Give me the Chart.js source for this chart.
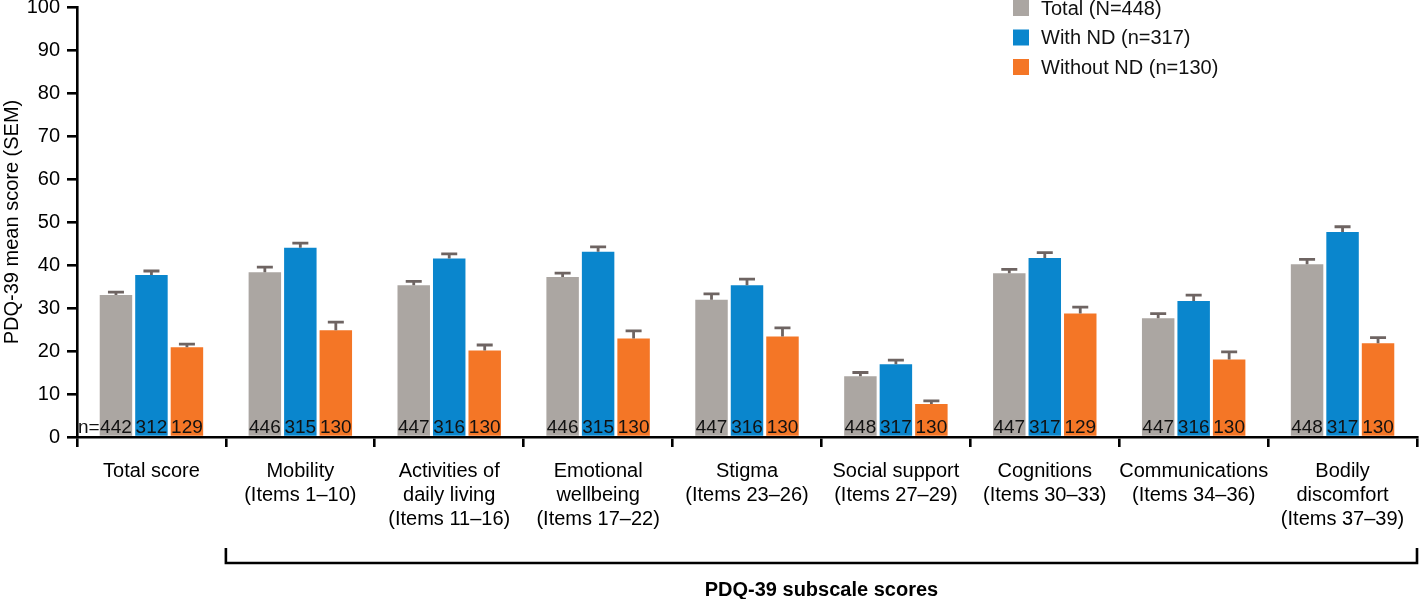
<!DOCTYPE html>
<html>
<head>
<meta charset="utf-8">
<script src="https://cdn.jsdelivr.net/npm/chart.js@4/dist/chart.umd.min.js"></script>
<style>
  html, body { margin: 0; padding: 0; background: #fff; }
  canvas { display: block; }
</style>
</head>
<body>
<canvas id="c" width="1419" height="599"></canvas>
<script>
const categories = [
  "Total score",
  ["Mobility", "(Items 1–10)"],
  ["Activities of", "daily living", "(Items 11–16)"],
  ["Emotional", "wellbeing", "(Items 17–22)"],
  ["Stigma", "(Items 23–26)"],
  ["Social support", "(Items 27–29)"],
  ["Cognitions", "(Items 30–33)"],
  ["Communications", "(Items 34–36)"],
  ["Bodily", "discomfort", "(Items 37–39)"]
];
const seriesLabels = ["Total (N=448)", "With ND (n=317)", "Without ND (n=130)"];
const totalMean = [33.0, 38.3, 35.3, 37.2, 31.9, 14.1, 38.1, 27.6, 40.2];
const totalSem = [0.7, 1.2, 0.9, 0.9, 1.4, 0.9, 0.9, 1.1, 1.1];
const withNdMean = [37.7, 44.0, 41.5, 43.1, 35.3, 16.9, 41.6, 31.6, 47.7];
const withNdSem = [0.9, 1.1, 1.1, 1.1, 1.4, 1.0, 1.3, 1.4, 1.2];
const withoutNdMean = [20.9, 24.8, 20.1, 22.9, 23.4, 7.7, 28.7, 18.0, 21.8];
const withoutNdSem = [0.7, 1.9, 1.3, 1.8, 2.0, 0.7, 1.5, 1.8, 1.3];
const totalN = [442, 446, 447, 446, 447, 448, 447, 447, 448];
const withNdN = [312, 315, 316, 315, 316, 317, 317, 316, 317];
const withoutNdN = [129, 130, 130, 130, 130, 130, 129, 130, 130];
const yTitle = "PDQ-39 mean score (SEM)";
const groupTitle = "PDQ-39 subscale scores";

const FONT = "'Liberation Sans', Arial, Helvetica, sans-serif";
const colors = ["#aba6a2", "#0a86cd", "#f47626"];
const sems = [totalSem, withNdSem, withoutNdSem];
const ns = [totalN, withNdN, withoutNdN];

const errorBars = {
  id: "errorBars",
  afterDatasetsDraw(chart) {
    const ctx = chart.ctx, y = chart.scales.y;
    ctx.save();
    ctx.strokeStyle = "#6e6462";
    ctx.lineWidth = 2.8;
    chart.data.datasets.forEach((ds, di) => {
      const meta = chart.getDatasetMeta(di);
      meta.data.forEach((bar, i) => {
        const top = y.getPixelForValue(ds.data[i] + sems[di][i]);
        ctx.beginPath();
        ctx.moveTo(bar.x, bar.y);
        ctx.lineTo(bar.x, top);
        ctx.moveTo(bar.x - 8, top);
        ctx.lineTo(bar.x + 8, top);
        ctx.stroke();
      });
    });
    ctx.restore();
  }
};

const nLabels = {
  id: "nLabels",
  afterDatasetsDraw(chart) {
    const ctx = chart.ctx, y = chart.scales.y;
    const base = y.getPixelForValue(0) - 4;
    ctx.save();
    ctx.font = "19px " + FONT;
    ctx.fillStyle = "#111";
    ctx.textBaseline = "alphabetic";
    ctx.textAlign = "center";
    chart.data.datasets.forEach((ds, di) => {
      const meta = chart.getDatasetMeta(di);
      meta.data.forEach((bar, i) => {
        ctx.fillText(String(ns[di][i]), bar.x, base);
      });
    });
    ctx.textAlign = "left";
    ctx.fillText("n=", chart.chartArea.left + 1, base);
    ctx.restore();
  }
};

const legendAndBracket = {
  id: "legendAndBracket",
  afterDraw(chart) {
    const ctx = chart.ctx, x = chart.scales.x;
    ctx.save();
    ctx.font = "20px " + FONT;
    ctx.textBaseline = "middle";
    ctx.textAlign = "left";
    chart.data.datasets.forEach((ds, di) => {
      const cy = 8 + di * 29.5;
      ctx.fillStyle = ds.backgroundColor;
      ctx.fillRect(1013, cy - 8, 16, 16);
      ctx.fillStyle = "#111";
      ctx.fillText(ds.label, 1041, cy + 1);
    });
    const left = x.getPixelForValue(0.5);
    const right = chart.chartArea.right;
    ctx.strokeStyle = "#000";
    ctx.lineWidth = 2.6;
    ctx.beginPath();
    ctx.moveTo(left, 548);
    ctx.lineTo(left, 563);
    ctx.lineTo(right, 563);
    ctx.lineTo(right, 548);
    ctx.stroke();
    ctx.font = "bold 20px " + FONT;
    ctx.fillStyle = "#000";
    ctx.textAlign = "center";
    ctx.fillText(groupTitle, (left + right) / 2, 590);
    ctx.restore();
  }
};

new Chart(document.getElementById("c"), {
  type: "bar",
  data: {
    labels: categories,
    datasets: [
      { label: seriesLabels[0], data: totalMean, backgroundColor: colors[0] },
      { label: seriesLabels[1], data: withNdMean, backgroundColor: colors[1] },
      { label: seriesLabels[2], data: withoutNdMean, backgroundColor: colors[2] }
    ]
  },
  options: {
    responsive: false,
    animation: false,
    devicePixelRatio: 1,
    layout: { padding: { top: 7, right: 2, left: 0, bottom: 0 } },
    datasets: { bar: { categoryPercentage: 0.715, barPercentage: 0.915, borderWidth: 0 } },
    plugins: { legend: { display: false }, tooltip: { enabled: false } },
    scales: {
      x: {
        afterFit(s) { s.height = 162; s.paddingLeft = 0; s.paddingRight = 0; },
        grid: { offset: true, drawOnChartArea: false, drawTicks: true, tickLength: 10, color: "#000", lineWidth: 2.6 },
        border: { display: true, color: "#000", width: 2.6 },
        ticks: { color: "#000", font: { family: FONT, size: 20, lineHeight: 1.2 }, padding: 12, maxRotation: 0, autoSkip: false }
      },
      y: {
        min: 0, max: 100,
        afterFit(s) { s.width = 77; s.paddingTop = 0; s.paddingBottom = 0; },
        grid: { drawOnChartArea: false, drawTicks: true, tickLength: 10, color: "#000", lineWidth: 2.6 },
        border: { display: true, color: "#000", width: 2.6 },
        ticks: { stepSize: 10, color: "#000", font: { family: FONT, size: 20 }, padding: 7 },
        title: { display: true, text: yTitle, color: "#000", font: { family: FONT, size: 20 }, padding: 0 }
      }
    }
  },
  plugins: [errorBars, nLabels, legendAndBracket]
});
</script>
</body>
</html>
